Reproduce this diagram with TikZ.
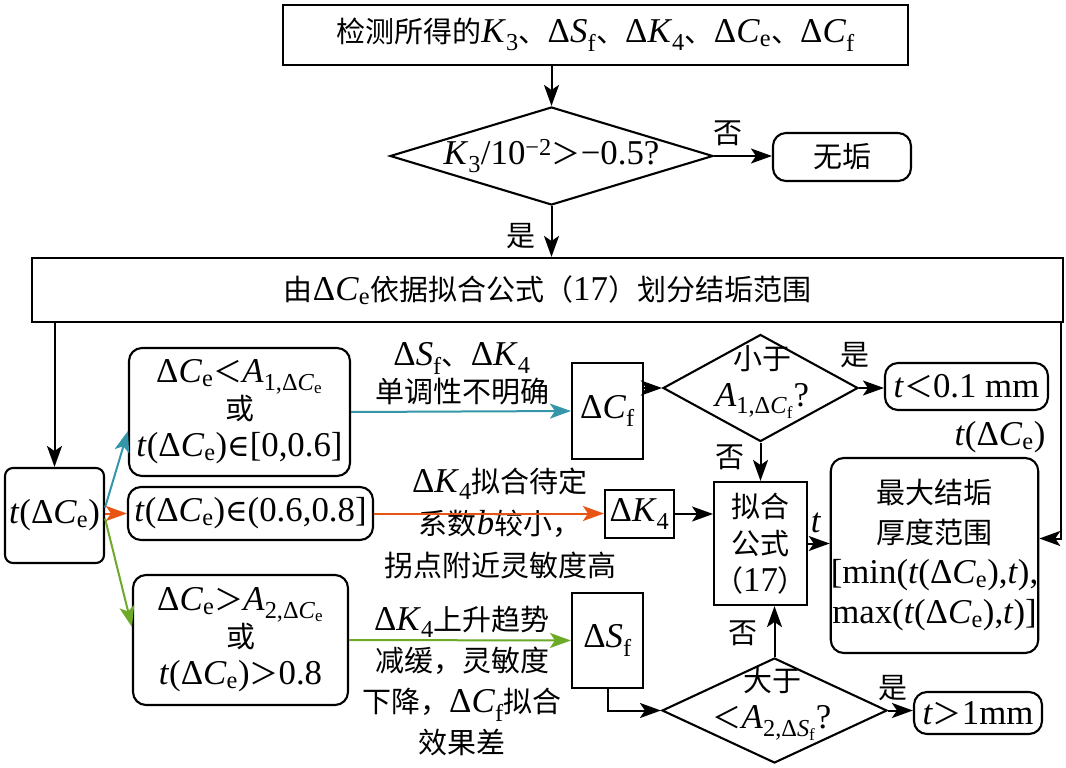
\documentclass[tikz,border=0pt]{standalone}
\usepackage{fontspec}
\setmainfont{Liberation Serif}[Scale=1.2]
\newfontfamily\cjk{Noto Sans CJK SC}
\newfontfamily\symfont{DejaVu Serif}[Scale=1.05]
\usetikzlibrary{arrows.meta,shapes.geometric}
\definecolor{tealline}{RGB}{52,150,168}
\definecolor{orangeline}{RGB}{232,84,20}
\definecolor{greenline}{RGB}{108,170,40}
\newcommand{\zh}[1]{{\cjk #1}}
\newcommand{\dCe}{Δ\textit{C}\textsubscript{e}}
\newcommand{\dCf}{Δ\textit{C}\textsubscript{f}}
\newcommand{\dSf}{Δ\textit{S}\textsubscript{f}}
\newcommand{\dKf}{Δ\textit{K}\textsubscript{4}}
\newcommand{\tv}{\textit{t}}
\newcommand{\isin}{{\symfont ∈}}
\tikzset{
    flow-box/.style = {draw, line width=2.1pt, rectangle, inner sep=0pt, align=center, font=\fontsize{29}{37}\selectfont},
    round-box/.style = {flow-box, rounded corners=13pt},
    decision/.style = {draw, line width=2.1pt, diamond, inner sep=0pt},
    flow-text/.style = {inner sep=0pt, align=center, font=\fontsize{29}{37}\selectfont},
    flow/.style = {line width=2pt, -{Stealth[length=21pt,width=15pt,inset=5pt]}},
}

\begin{document}
\begin{tikzpicture}[x=1pt,y=-1pt]
\useasboundingbox (0,0) rectangle (1066,768);
\node[flow-box, minimum width=625pt, minimum height=60pt] (detect) at (595.5,35) {\zh{检测所得的}\textit{K}\textsubscript{3}\zh{、}\dSf\zh{、}\dKf\zh{、}\dCe\zh{、}\dCf};
\node[decision, minimum width=323pt, minimum height=98pt] (judge) at (551.5,156) {};
\node[flow-text] (judge-text) at (judge) {\textit{K}\textsubscript{3}/10\textsuperscript{−2}\zh{＞}−0.5?};
\node[round-box, minimum width=138pt, minimum height=48pt] (noscale) at (842,157) {\zh{无垢}};
\node[flow-box, minimum width=1031pt, minimum height=64pt] (divide) at (547.5,290) {\zh{由}\dCe\zh{依据拟合公式（}17\zh{）划分结垢范围}};

\node[round-box, rounded corners=8pt, minimum width=99pt, minimum height=95pt] (tce) at (54.5,515.5) {\tv(\dCe)};
\node[round-box, minimum width=221pt, minimum height=128pt] (low) at (239.5,412) {\dCe\zh{＜}\textit{A}\textsubscript{1,\dCe}\\\zh{或}\\\tv(\dCe)\isin[0,0.6]};
\node[round-box, minimum width=245pt, minimum height=53pt] (mid) at (250.5,513.5) {\tv(\dCe)\isin(0.6,0.8]};
\node[round-box, minimum width=215pt, minimum height=130pt] (high) at (240.5,640) {\dCe\zh{＞}\textit{A}\textsubscript{2,\dCe}\\\zh{或}\\\tv(\dCe)\zh{＞}0.8};

\node[flow-box, minimum width=71pt, minimum height=96pt] (cf) at (607.5,411) {\dCf};
\node[flow-box, minimum width=69pt, minimum height=48pt] (kf) at (639.5,514) {\dKf};
\node[flow-box, minimum width=71pt, minimum height=95pt] (sf) at (607.5,640.5) {\dSf};

\node[decision, minimum width=195pt, minimum height=107pt] (less) at (760.5,388) {};
\node[flow-text] (less-text) at (762,382) {\zh{小于}\\\textit{A}\textsubscript{1,\dCf}?};
\node[round-box, minimum width=163pt, minimum height=47pt] (thin) at (966.5,386.5) {\tv\zh{＜}0.1 mm};
\node[flow-box, minimum width=89pt, minimum height=123pt] (fit) at (760.5,543.5) {\zh{拟合}\\\zh{公式}\\\zh{（}17\zh{）}};
\node[round-box, minimum width=205pt, minimum height=195pt, font=\fontsize{29}{40}\selectfont] (maxrange) at (934.5,555.5) {\zh{最大结垢}\\\zh{厚度范围}\\{[}min(\tv(\dCe),\tv),\\max(\tv(\dCe),\tv)]};
\node[decision, minimum width=225pt, minimum height=105pt] (more) at (774.5,710.5) {};
\node[flow-text] (more-text) at (772,704) {\zh{大于}\\\zh{＜}\textit{A}\textsubscript{2,\dSf}?};
\node[round-box, minimum width=128pt, minimum height=42pt] (thick) at (978,713) {\tv\zh{＞}1mm};

\node[flow-text] (no-judge) at (728,133) {\zh{否}};
\node[flow-text] (yes-judge) at (521,236) {\zh{是}};
\node[flow-text] (yes-less) at (855,355) {\zh{是}};
\node[flow-text] (no-less) at (730,457) {\zh{否}};
\node[flow-text] (no-more) at (743,633) {\zh{否}};
\node[flow-text] (yes-more) at (893,688) {\zh{是}};
\node[flow-text] (t-out) at (816,523) {\tv};
\node[flow-text] (tce-note) at (1000,437) {\tv(\dCe)};
\node[flow-text] (teal-note) at (462,374) {\dSf\zh{、}\dKf\\\zh{单调性不明确}};
\node[flow-text, font=\fontsize{29}{42}\selectfont] (orange-note) at (500,523) {\dKf\zh{拟合待定}\\\zh{系数}\textit{b}\zh{较小，}\\\zh{拐点附近灵敏度高}};
\node[flow-text, font=\fontsize{29}{41}\selectfont] (green-note) at (462,681) {\dKf\zh{上升趋势}\\\zh{减缓，灵敏度}\\\zh{下降，}\dCf\zh{拟合}\\\zh{效果差}};

\draw[flow] (detect.south -| judge.north) -- (judge.north);
\draw[flow] (judge.east) -- (judge.east -| noscale.west);
\draw[flow] (judge.south) -- (judge.south |- divide.north);
\draw[flow] (tce.north |- divide.south) -- (tce.north);
\draw[flow] ([xshift=-3pt]divide.south east) |- ([yshift=17pt]maxrange.east);
\draw[flow, tealline] ([yshift=8pt]tce.east) -- ([yshift=-19pt]low.west);
\draw[flow, orangeline] (tce.east |- mid.west) -- (mid.west);
\draw[flow, greenline] ([yshift=-3pt]tce.east) -- ([yshift=13pt]high.west);
\draw[flow, tealline] (low.east) -- (cf.west);
\draw[flow, orangeline] (mid.east) -- (mid.east -| kf.west);
\draw[flow, greenline] (high.east) -- (sf.west);
\draw[flow] (cf.east |- less.west) -- (less.west);
\draw[flow] (less.east) -- (less.east -| thin.west);
\draw[flow] (less.south) -- (less.south |- fit.north);
\draw[flow] (kf.east) -- (kf.east -| fit.west);
\draw[flow] (fit.east) -- (fit.east -| maxrange.west);
\draw[flow] (sf.south) |- (more.west);
\draw[flow] (more.north) -- (more.north |- fit.south);
\draw[flow] (more.east) -- (more.east -| thick.west);
\end{tikzpicture}
\end{document}
